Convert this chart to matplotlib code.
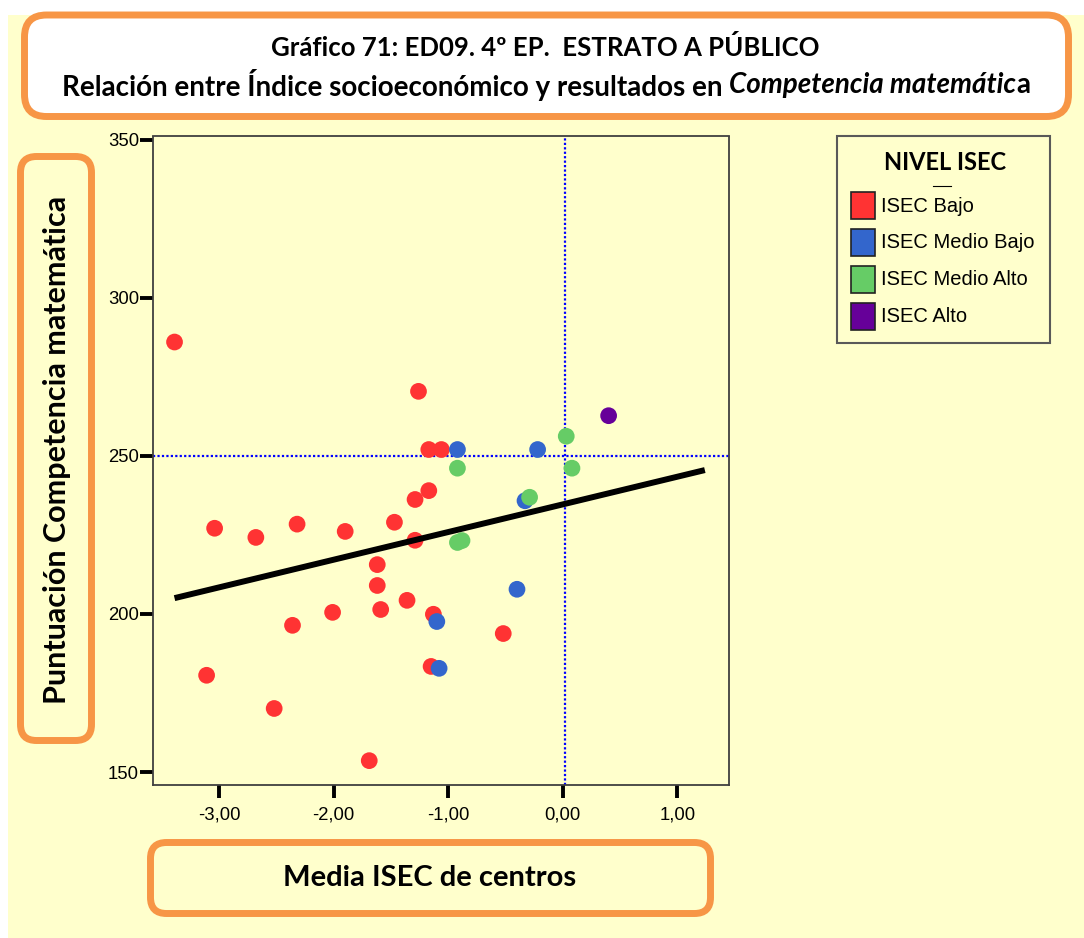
import matplotlib

matplotlib.use("Agg")
import matplotlib.pyplot as plt
from matplotlib.patches import FancyBboxPatch, Rectangle

# ---- datos ----
categories = ["ISEC Bajo", "ISEC Medio Bajo", "ISEC Medio Alto", "ISEC Alto"]
colors = ["#FF3333", "#3366CC", "#66CC66", "#660099"]

bajo_x = [-3.39, -1.26, -1.17, -1.06, -1.17, -1.29, -1.47, -3.04, -2.68, -2.32, -1.90,
          -1.29, -1.62, -1.62, -1.36, -1.59, -2.01, -1.13, -2.36, -0.52, -3.11, -1.15,
          -2.52, -1.69]
bajo_y = [286.0, 270.4, 252.0, 252.0, 239.0, 236.2, 229.0, 227.1, 224.2, 228.4, 226.1,
          223.3, 215.6, 209.0, 204.3, 201.4, 200.5, 199.9, 196.4, 193.8, 180.6, 183.4,
          170.1, 153.6]
medio_bajo_x = [-0.92, -0.22, -0.33, -0.40, -1.10, -1.08]
medio_bajo_y = [252.0, 252.0, 235.8, 207.8, 197.6, 182.8]
medio_alto_x = [-0.92, -0.92, -0.88, -0.29, 0.03, 0.08]
medio_alto_y = [246.1, 222.6, 223.2, 236.9, 256.2, 246.1]
alto_x = [0.40]
alto_y = [262.7]

series_x = [bajo_x, medio_bajo_x, medio_alto_x, alto_x]
series_y = [bajo_y, medio_bajo_y, medio_alto_y, alto_y]

fit_x = [-3.39, 1.24]
fit_y = [205.0, 245.5]

ref_x = 0.02
ref_y = 250

x_ticks = [-3, -2, -1, 0, 1]
x_ticklabels = ["-3,00", "-2,00", "-1,00", "0,00", "1,00"]
y_ticks = [150, 200, 250, 300, 350]

title1 = "Gráfico 71: ED09. 4º EP.  ESTRATO A PÚBLICO"
title2_parts = [("Relación entre Índice socioeconómico y resultados en ", "normal"),
                ("Competencia matemátic", "italic"),
                ("a", "normal")]
ylabel = "Puntuación Competencia matemática"
xlabel = "Media ISEC de centros"
legend_title = "NIVEL ISEC"

# ---- estilo ----
YELLOW = "#FFFFCC"
ORANGE = "#F79646"
TITLE_FONT = ["Lato", "DejaVu Sans"]
TICK_FONT = ["Liberation Sans", "DejaVu Sans"]

W, H = 1084, 938
fig = plt.figure(figsize=(W / 100, H / 100), dpi=100, facecolor="white")

# capa de fondo en coordenadas de píxel
bg = fig.add_axes([0, 0, 1, 1], zorder=0)
bg.set_xlim(0, W)
bg.set_ylim(H, 0)
bg.axis("off")
bg.add_patch(Rectangle((8, 15), W - 8, H - 15, fc=YELLOW, ec="none"))


def rbox(x0, y0, x1, y1, fc, r=20):
    bg.add_patch(FancyBboxPatch((x0, y0), x1 - x0, y1 - y0,
                                boxstyle=f"round,pad=0,rounding_size={r}",
                                fc=fc, ec=ORANGE, lw=5))


rbox(24.5, 15, 1068.5, 116.5, "white", r=22)
rbox(20.5, 156.5, 91.5, 740.5, YELLOW, r=16)
rbox(150.5, 842.5, 710.5, 913.5, YELLOW, r=16)

bg.text(545, 47, title1, ha="center", va="center", fontsize=18.5,
        fontweight="bold", family=TITLE_FONT)

# segunda línea del título con partes en cursiva
parts = []
for s, style in title2_parts:
    parts.append(bg.text(0, 85, s, ha="left", va="center", fontsize=20,
                         fontweight="bold", fontstyle=style, family=TITLE_FONT))
fig.canvas.draw()
widths = [t.get_window_extent().width for t in parts]
x = 546 - sum(widths) / 2
for t, w in zip(parts, widths):
    t.set_x(x)
    x += w

bg.text(57, 450, ylabel, rotation=90, ha="center", va="center", fontsize=22,
        fontweight="bold", family=TITLE_FONT)
bg.text(430, 878, xlabel, ha="center", va="center", fontsize=21,
        fontweight="bold", family=TITLE_FONT)

# leyenda
bg.add_patch(Rectangle((837, 136), 213, 207, fc=YELLOW, ec="#595959", lw=1.5))
bg.text(945, 163, legend_title, ha="center", va="center", fontsize=17,
        fontweight="bold", family=TITLE_FONT)
bg.plot([933, 951], [186, 186], color="black", lw=0.8)
for i, (cat, col) in enumerate(zip(categories, colors)):
    yc = 206 + i * 36.8
    bg.add_patch(Rectangle((851, yc - 13.5), 24, 27, fc=col, ec="#222222", lw=1.2))
    bg.text(881, yc, cat, ha="left", va="center", fontsize=14.5, family=TICK_FONT)

# ---- gráfico principal ----
ax = fig.add_axes([153 / W, 1 - 785 / H, (729 - 153) / W, (785 - 136.5) / H], zorder=1)
ax.set_facecolor(YELLOW)

for xs, ys, col in zip(series_x, series_y, colors):
    ax.scatter(xs, ys, s=145, color=col, edgecolors="none", zorder=3)

ax.plot(fit_x, fit_y, color="black", lw=4.3, solid_capstyle="butt", zorder=4)
ax.axhline(ref_y, color="#0000FF", lw=1.6, ls=(0, (1, 1)), zorder=2)
ax.axvline(ref_x, color="#0000FF", lw=1.6, ls=(0, (1, 1)), zorder=2)

ax.set_xlim(-3.578, 1.451)
ax.set_ylim(145.9, 351)
ax.set_xticks(x_ticks)
ax.set_xticklabels(x_ticklabels)
ax.set_yticks(y_ticks)
ax.tick_params(direction="out", length=9.5, width=2.8, color="black",
               labelsize=13.3)
ax.tick_params(axis="y", pad=0.5)
ax.tick_params(axis="x", pad=6)
for lab in ax.get_xticklabels() + ax.get_yticklabels():
    lab.set_family(TICK_FONT)
for sp in ax.spines.values():
    sp.set_color("#404040")
    sp.set_linewidth(1.3)

fig.savefig("out.png", dpi=100, facecolor=fig.get_facecolor())
